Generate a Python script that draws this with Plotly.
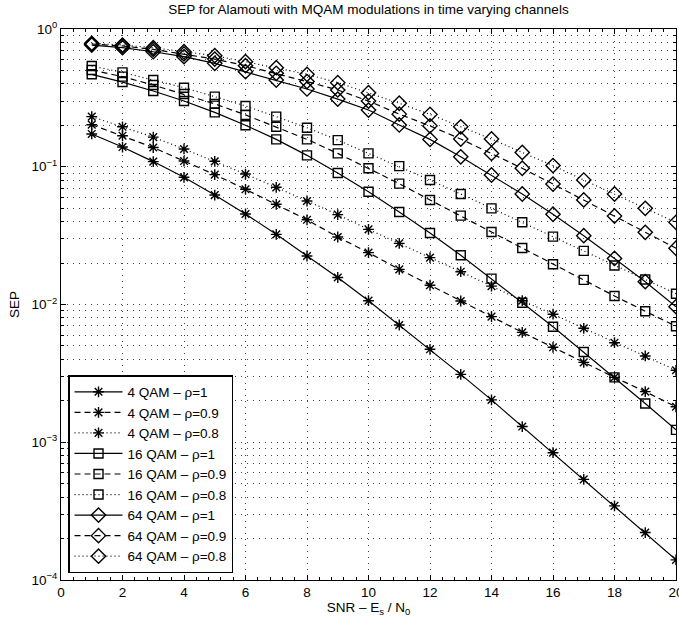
import plotly.graph_objects as go

# SNR points (Es/N0 in dB)
snr = list(range(1, 21))

# Symbol error probability for each modulation / correlation factor
sep_4qam_r1 = [0.173, 0.139, 0.109, 0.0838, 0.0623, 0.0454, 0.0323, 0.0225, 0.0157, 0.01066,
               0.0071, 0.00473, 0.00311, 0.00203, 0.0013, 0.00084, 0.000538, 0.000345, 0.000221, 0.00014]
sep_4qam_r09 = [0.202, 0.168, 0.138, 0.110, 0.0877, 0.0686, 0.0534, 0.0412, 0.0309, 0.0238,
                0.0180, 0.0138, 0.0106, 0.00816, 0.00628, 0.00489, 0.0038, 0.00296, 0.00233, 0.00181]
sep_4qam_r08 = [0.231, 0.195, 0.164, 0.1346, 0.1095, 0.0885, 0.0709, 0.0564, 0.0449, 0.0351,
                0.0278, 0.0219, 0.0173, 0.0136, 0.01066, 0.0085, 0.00672, 0.00528, 0.00423, 0.00333]

sep_16qam_r1 = [0.469, 0.412, 0.355, 0.300, 0.248, 0.200, 0.158, 0.121, 0.0901, 0.0659,
                0.0469, 0.0330, 0.0228, 0.0154, 0.0103, 0.0069, 0.00452, 0.00296, 0.00191, 0.00123]
sep_16qam_r09 = [0.504, 0.451, 0.392, 0.337, 0.286, 0.238, 0.195, 0.158, 0.125, 0.0975,
                 0.0754, 0.0574, 0.0442, 0.0336, 0.0257, 0.0196, 0.0151, 0.01153, 0.00893, 0.00695]
sep_16qam_r08 = [0.539, 0.484, 0.426, 0.375, 0.323, 0.276, 0.231, 0.192, 0.156, 0.125,
                 0.101, 0.0801, 0.0634, 0.0499, 0.0395, 0.0311, 0.0245, 0.0192, 0.0152, 0.01198]

sep_64qam_r1 = [0.765, 0.732, 0.684, 0.630, 0.563, 0.490, 0.426, 0.367, 0.310, 0.258,
                0.201, 0.158, 0.118, 0.0871, 0.0634, 0.0452, 0.0316, 0.0216, 0.01465, 0.00964]
sep_64qam_r09 = [0.778, 0.753, 0.711, 0.659, 0.605, 0.542, 0.477, 0.415, 0.361, 0.300,
                 0.241, 0.198, 0.159, 0.125, 0.0975, 0.0749, 0.0574, 0.0439, 0.0334, 0.0256]
sep_64qam_r08 = [0.787, 0.765, 0.732, 0.684, 0.640, 0.579, 0.524, 0.469, 0.408, 0.345,
                 0.289, 0.240, 0.195, 0.159, 0.127, 0.102, 0.0801, 0.0634, 0.0499, 0.0395]

series_names = ["4 QAM – ρ=1", "4 QAM – ρ=0.9", "4 QAM – ρ=0.8",
                "16 QAM – ρ=1", "16 QAM – ρ=0.9", "16 QAM – ρ=0.8",
                "64 QAM – ρ=1", "64 QAM – ρ=0.9", "64 QAM – ρ=0.8"]
series_values = [sep_4qam_r1, sep_4qam_r09, sep_4qam_r08,
                 sep_16qam_r1, sep_16qam_r09, sep_16qam_r08,
                 sep_64qam_r1, sep_64qam_r09, sep_64qam_r08]

x_ticks = list(range(0, 21, 2))
y_tickvals = [1e-4, 1e-3, 1e-2, 1e-1, 1e0]
y_ticktext = ["10<sup>−4</sup>", "10<sup>−3</sup>", "10<sup>−2</sup>", "10<sup>−1</sup>", "10<sup>0</sup>"]

symbols = ["asterisk-open"] * 3 + ["square-open"] * 3 + ["diamond-open"] * 3
marker_sizes = [9] * 3 + [9] * 3 + [11] * 3
dashes = ["solid", "6px,4px", "1px,3px"] * 3

FONT = "Liberation Sans, Arial, Helvetica, sans-serif"

fig = go.Figure()
for name, vals, sym, msz, dsh in zip(series_names, series_values, symbols, marker_sizes, dashes):
    fig.add_trace(go.Scatter(
        x=snr, y=vals, name=name, mode="lines+markers",
        line=dict(color="black", width=1.2, dash=dsh),
        marker=dict(symbol=sym, size=msz, color="black",
                    line=dict(color="black", width=1.4)),
    ))

axis_common = dict(
    showline=True, linecolor="black", linewidth=1.2, mirror="ticks",
    ticks="inside", ticklen=5, tickcolor="black", tickwidth=1,
    showgrid=True, gridcolor="#444", griddash="1px,5px", gridwidth=1,
    zeroline=False, ticklabeloverflow="allow", automargin=False,
    tickfont=dict(family=FONT, size=13.5, color="black"),
)

fig.update_xaxes(
    range=[0, 20], tickvals=x_ticks,
    title=dict(text="SNR – E<sub>s</sub> / N<sub>0</sub>", font=dict(family=FONT, size=13.5, color="black"),
               standoff=2),
    minor=dict(ticks="inside", ticklen=2.5, tickcolor="black", dtick=0.4, showgrid=False),
    **axis_common,
)
fig.update_yaxes(
    type="log", range=[-4, 0], tickvals=y_tickvals, ticktext=y_ticktext,
    title=dict(text="SEP", font=dict(family=FONT, size=13.5, color="black"), standoff=8),
    minor=dict(ticks="inside", ticklen=2.5, tickcolor="black", showgrid=True,
               gridcolor="#444", griddash="1px,5px", gridwidth=1,
               tickvals=[m * 10 ** e for e in range(-4, 0) for m in range(2, 10)]),
    **axis_common,
)

fig.update_layout(
    width=679, height=627,
    margin=dict(l=61, r=3, t=29, b=47, autoexpand=False),
    paper_bgcolor="white", plot_bgcolor="white",
    font=dict(family=FONT, size=13.5, color="black"),
    title=dict(text="SEP for Alamouti with MQAM modulations in time varying channels",
               x=0.5426, xanchor="center", y=0.993, yanchor="top",
               font=dict(family=FONT, size=13.5, color="black")),
    showlegend=True,
    legend=dict(x=0.0114, y=0.0127, xanchor="left", yanchor="bottom",
                bgcolor="white", bordercolor="black", borderwidth=1.5,
                font=dict(family=FONT, size=13.5, color="black"),
                itemwidth=48, tracegroupgap=0),
)

fig.write_html("out.html")
